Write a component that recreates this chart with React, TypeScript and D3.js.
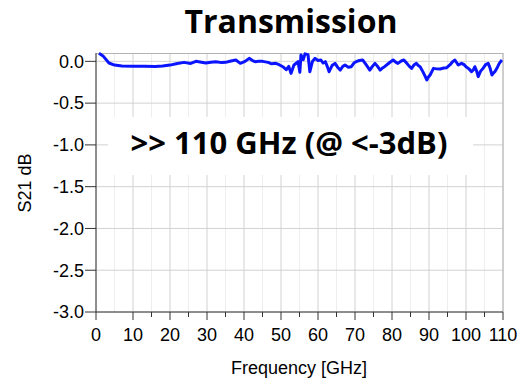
import { useMemo } from "react";
import * as d3 from "d3";

const W = 519;
const H = 383;
const MARGIN = { top: 53, right: 16, bottom: 71, left: 96 };

const freq = [
  0.8, 2, 3.5, 5, 7, 10, 13, 16, 18, 20, 22, 23.8, 25.6, 27, 28.5, 29.7, 31, 32.4, 34, 35,
  36.5, 37.8, 39, 40.3, 41.4, 42.3, 43, 44, 45, 46.5, 47.5, 48.6, 49.5, 50.5, 51.4, 52.1, 52.7,
  53.5, 54.2, 54.6, 55.1, 55.4, 56, 56.5, 57.3, 57.8, 58.5, 59.2, 60, 60.8, 61.4, 62, 62.5, 63,
  63.8, 64.6, 65.3, 66, 66.7, 67.3, 68.2, 69, 69.7, 70.3, 71.2, 72.1, 73, 74, 74.7, 75.4, 76.1,
  76.8, 77.4, 78, 79.2, 80.3, 81, 81.6, 82.5, 83.2, 84, 84.7, 85.3, 86, 86.6, 87.1, 87.6, 88.3,
  89, 89.4, 89.8, 90.3, 90.8, 91.2, 92, 93, 94, 94.8, 95.7, 96.5, 97, 97.9, 98.8, 99.5, 100,
  100.8, 101.5, 102, 102.4, 102.9, 103.3, 103.9, 104.6, 105.3, 106, 106.5, 107, 107.4, 107.8,
  108.5, 109, 109.7,
];
const s21 = [
  0.096, 0.06, -0.02, -0.045, -0.055, -0.058, -0.06, -0.062, -0.055, -0.045, -0.025, -0.012,
  -0.025, 0.0, -0.01, -0.02, -0.01, -0.004, -0.015, -0.012, 0.005, 0.016, -0.024, 0.0, 0.036,
  0.01, -0.004, 0.0, 0.0, -0.012, -0.03, -0.024, -0.04, -0.064, -0.1, -0.06, -0.144, -0.044,
  -0.02, -0.004, -0.13, 0.076, 0.02, 0.09, 0.08, -0.124, 0.0, 0.036, 0.01, 0.016, -0.02, -0.004,
  -0.06, -0.124, -0.05, -0.024, -0.07, -0.104, -0.06, -0.044, -0.07, -0.064, -0.02, -0.004, 0.01,
  0.016, -0.04, -0.104, -0.06, -0.024, -0.06, -0.104, -0.08, -0.064, -0.02, 0.016, -0.01, -0.024,
  0.004, 0.016, -0.024, -0.06, -0.084, -0.04, -0.024, -0.05, -0.064, -0.12, -0.183, -0.223,
  -0.19, -0.163, -0.12, -0.084, -0.09, -0.092, -0.08, -0.076, -0.04, 0.0, 0.016, -0.044, -0.024,
  -0.04, -0.064, -0.09, -0.124, -0.1, -0.064, -0.12, -0.183, -0.12, -0.084, -0.04, -0.024, -0.08,
  -0.163, -0.14, -0.124, -0.07, -0.024, 0.016,
];

const xTicks = [0, 10, 20, 30, 40, 50, 60, 70, 80, 90, 100, 110];
const xMinor = [15, 25, 35, 45, 55, 65, 75, 85, 95, 105];
const yTicks = [0, -0.5, -1.0, -1.5, -2.0, -2.5, -3.0];

const TITLE = "Transmission";
const NOTE = ">> 110 GHz (@ <-3dB)";
const X_LABEL = "Frequency [GHz]";
const Y_LABEL = "S21 dB";

const AXIS_FONT = "'Liberation Sans', Arial, sans-serif";
const BOLD_FONT = "'Open Sans', 'Noto Sans', sans-serif";

const App = () => {
  const boundsWidth = W - MARGIN.left - MARGIN.right;
  const boundsHeight = H - MARGIN.top - MARGIN.bottom;

  const xScale = useMemo(() => d3.scaleLinear().domain([0, 110]).range([0, boundsWidth]), [boundsWidth]);
  const yScale = useMemo(() => d3.scaleLinear().domain([-3, 0.1]).range([boundsHeight, 0]), [boundsHeight]);

  const points = freq.map((f, i) => [f, s21[i]] as [number, number]);
  const line = d3
    .line<[number, number]>()
    .x((d) => xScale(d[0]))
    .y((d) => yScale(d[1]));
  const fmt = (v: number) => d3.format(".1f")(v).replace("\u2212", "-");

  return (
    <svg width={W} height={H} style={{ position: "absolute", left: 0, top: 0, background: "#fff" }}>
      <text x={291} y={33} textAnchor="middle" fontFamily={BOLD_FONT} fontWeight={700} fontSize={32} fill="#000">
        {TITLE}
      </text>
      <g transform={`translate(${MARGIN.left},${MARGIN.top})`}>
        {/* grid */}
        {xMinor.concat([5]).map((t) => (
          <line key={"xm" + t} x1={xScale(t)} x2={xScale(t)} y1={0} y2={boundsHeight} stroke="#eeeeee" />
        ))}
        {xTicks.map((t) => (
          <line key={"xg" + t} x1={xScale(t)} x2={xScale(t)} y1={0} y2={boundsHeight} stroke="#d2d2d2" />
        ))}
        {yTicks.map((t) => (
          <line key={"yg" + t} x1={0} x2={boundsWidth} y1={yScale(t)} y2={yScale(t)} stroke="#d2d2d2" />
        ))}
        {/* frame top/right */}
        <line x1={0} x2={boundsWidth} y1={0.5} y2={0.5} stroke="#b4b4b4" />
        <line x1={boundsWidth} x2={boundsWidth} y1={0} y2={boundsHeight} stroke="#b4b4b4" />

        {/* annotation box hides the grid */}
        <rect x={12} y={64} width={365} height={58} fill="#fff" />

        <path
          d={line(points) || ""}
          fill="none"
          stroke="#0a14ff"
          strokeWidth={3}
          strokeLinejoin="round"
        />

        {/* axes */}
        <line x1={0} x2={0} y1={0} y2={boundsHeight} stroke="#333" />
        <line x1={0} x2={boundsWidth} y1={boundsHeight} y2={boundsHeight} stroke="#333" />
        {xTicks.map((t) => (
          <g key={"xt" + t} transform={`translate(${xScale(t)},${boundsHeight})`}>
            <line y1={0} y2={8} stroke="#333" />
            <text y={29} textAnchor="middle" fontFamily={AXIS_FONT} fontSize={18} fill="#000">
              {t}
            </text>
          </g>
        ))}
        {xMinor.map((t) => (
          <line key={"xmt" + t} x1={xScale(t)} x2={xScale(t)} y1={boundsHeight} y2={boundsHeight + 5} stroke="#333" />
        ))}
        {yTicks.map((t) => (
          <g key={"yt" + t} transform={`translate(0,${yScale(t)})`}>
            <line x1={-11} x2={0} stroke="#333" />
            <text x={-12} dy="0.35em" textAnchor="end" fontFamily={AXIS_FONT} fontSize={18} fill="#000">
              {fmt(t)}
            </text>
          </g>
        ))}
        <text
          x={193}
          y={93}
          textAnchor="middle"
          dominantBaseline="middle"
          fontFamily={BOLD_FONT}
          fontWeight={700}
          fontSize={31}
          fill="#000"
        >
          {NOTE}
        </text>
      </g>
      <text x={299} y={374} textAnchor="middle" fontFamily={AXIS_FONT} fontSize={18} fill="#000">
        {X_LABEL}
      </text>
      <text
        transform="translate(31,183) rotate(-90)"
        textAnchor="middle"
        fontFamily={AXIS_FONT}
        fontSize={18}
        fill="#000"
      >
        {Y_LABEL}
      </text>
    </svg>
  );
};

export default App;
